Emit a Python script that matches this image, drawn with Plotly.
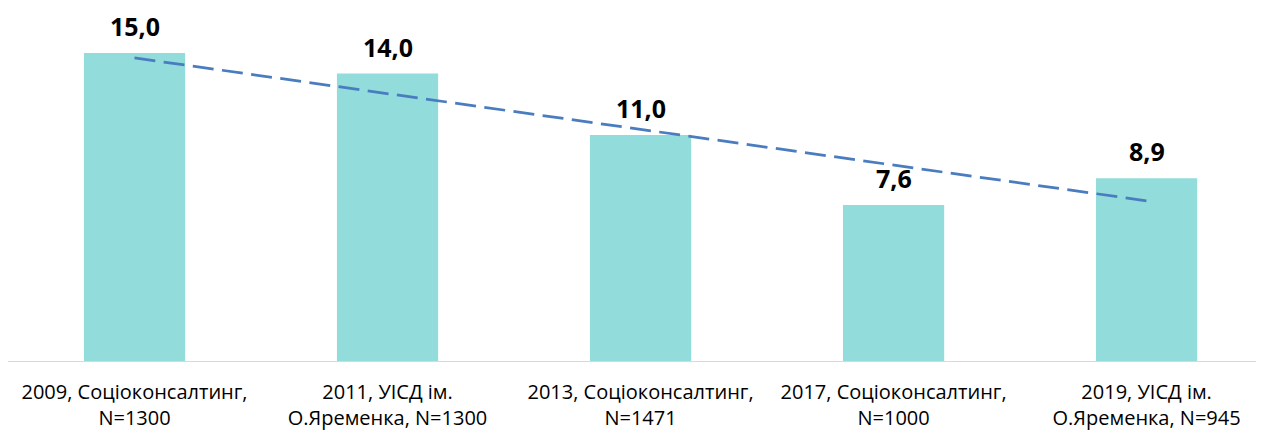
import plotly.graph_objects as go

categories = [
    "2009, Соціоконсалтинг,<br>N=1300",
    "2011, УІСД ім.<br>О.Яременка, N=1300",
    "2013, Соціоконсалтинг,<br>N=1471",
    "2017, Соціоконсалтинг,<br>N=1000",
    "2019, УІСД ім.<br>О.Яременка, N=945",
]
values = [15.0, 14.0, 11.0, 7.6, 8.9]
value_labels = ["15,0", "14,0", "11,0", "7,6", "8,9"]
# linear trend endpoints, at first and last category
trend_values = [14.76, 7.8]

x_idx = list(range(len(categories)))

fig = go.Figure()
fig.add_trace(go.Bar(
    x=x_idx, y=values, width=0.4,
    marker=dict(color="#92DCDB", line=dict(width=0)),
    hoverinfo="skip", showlegend=False,
))
fig.add_trace(go.Scatter(
    x=[x_idx[0], x_idx[-1]], y=trend_values, mode="lines",
    line=dict(color="#4A7CC0", width=2.75, dash="21px,8.44px"),
    hoverinfo="skip", showlegend=False,
))

for xi, v, t in zip(x_idx, values, value_labels):
    fig.add_annotation(
        x=xi, y=v, text="<b>" + t + "</b>", showarrow=False,
        yanchor="bottom", yshift=8,
        font=dict(family="Open Sans", size=25, color="#000000"),
    )

fig.update_layout(
    width=1256, height=423,
    margin=dict(l=0, r=0, t=0, b=70, autoexpand=False),
    paper_bgcolor="white", plot_bgcolor="white",
    xaxis=dict(
        range=[-0.5, 4.464], tickmode="array", tickvals=x_idx, ticktext=categories,
        showline=True, linecolor="#D9D9D9", linewidth=1, automargin=False,
        showgrid=False, zeroline=False, ticks="", ticklabelstandoff=13,
        tickfont=dict(family="Open Sans", size=20, color="#000000"),
    ),
    yaxis=dict(
        range=[0, 17.19], visible=False, showgrid=False, zeroline=False,
    ),
)

fig.write_html("out.html")
